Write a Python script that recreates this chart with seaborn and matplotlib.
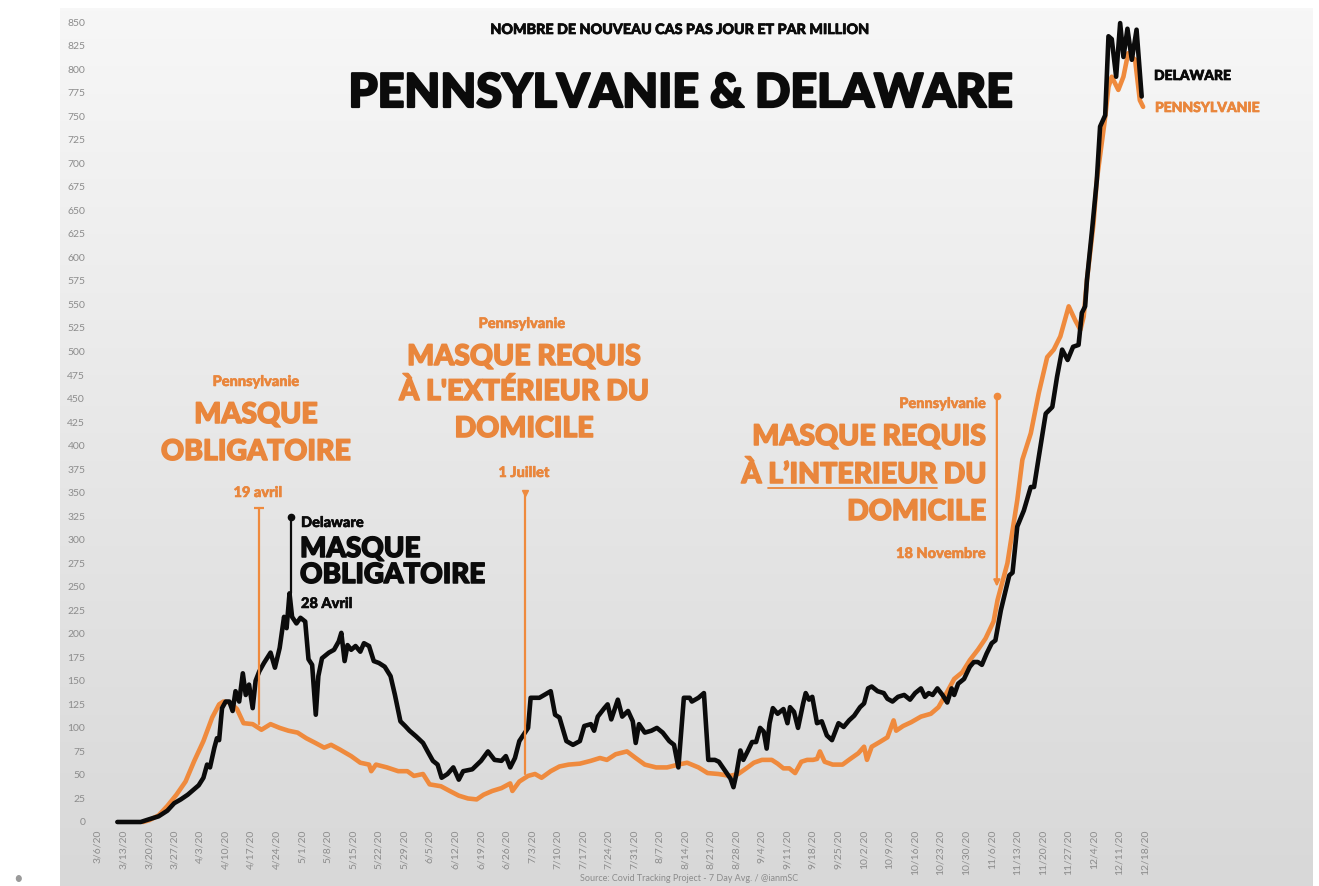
import numpy as np
import pandas as pd
import seaborn as sns
import matplotlib.pyplot as plt
import matplotlib.patheffects as pe
from matplotlib.colors import LinearSegmentedColormap
from matplotlib.lines import Line2D

# jours depuis le 6 mars 2020 / nouveaux cas par jour et par million
jours_delaware = [5.3, 11.7, 14.1, 16.6, 19.0, 20.9, 22.7, 24.6, 26.4, 27.6, 28.9, 29.9, 30.7, 31.9,
                  32.6, 33.2, 34.0, 35.0, 36.0, 36.9, 37.7, 38.7, 39.7, 40.5, 41.4, 42.4, 43.2, 44.2,
                  45.5, 47.3, 48.5, 49.8, 51.0, 51.7, 52.5, 53.2, 54.4, 55.5, 56.8, 57.7, 58.7, 59.7,
                  60.4, 61.4, 63.3, 64.7, 66.0, 66.7, 67.6, 68.4, 69.4, 70.6, 71.9, 72.9, 74.3, 75.6,
                  77.0, 78.6, 80.2, 81.4, 82.9, 84.2, 85.4, 87.2, 89.1, 90.5, 91.8, 93.1, 94.2, 95.8,
                  97.4, 98.9, 100.1, 102.6, 105.0, 106.9, 108.7, 110.6, 111.8, 113.0, 114.3, 115.5,
                  116.7, 117.9, 118.6, 121.0, 124.1, 125.3, 126.5, 128.4, 130.2, 132.1, 133.3, 135.1,
                  136.0, 137.0, 138.8, 139.7, 140.7, 142.5, 143.7, 145.3, 146.6, 147.4, 148.3, 149.9,
                  151.7, 153.2, 154.8, 156.6, 157.9, 159.1, 160.6, 162.2, 162.8, 164.6, 166.1, 167.3,
                  169.1, 170.2, 171.8, 173.4, 174.2, 175.0, 176.1, 176.9, 178.2, 179.3, 180.4, 181.5,
                  182.5, 183.3, 184.1, 185.0, 186.3, 187.9, 189.0, 189.7, 190.8, 191.9, 193.3, 194.0,
                  194.9, 195.8, 197.1, 198.4, 199.8, 201.2, 203.0, 204.4, 205.9, 207.3, 208.9, 210.0,
                  211.1, 212.1, 213.7, 215.4, 216.4, 217.8, 219.3, 221.0, 222.6, 224.0, 225.6, 226.7,
                  227.7, 228.8, 230.1, 231.5, 232.8, 234.0, 234.7, 235.8, 237.4, 239.0, 240.1, 241.2,
                  242.3, 243.6, 245.0, 246.0, 247.5, 249.8, 250.7, 252.0, 253.8, 255.7, 256.6, 257.9,
                  259.8, 261.6, 262.9, 264.3, 265.8, 267.3, 268.8, 269.7, 270.6, 271.1, 272.5, 273.8,
                  274.7, 276.1, 277.0, 277.9, 279.1, 280.2, 281.1, 282.2, 283.4, 284.7, 286.1]
cas_delaware = [0, 0, 3, 6, 12, 20, 24, 29, 35, 39, 47, 61, 58, 79,
                89, 87, 121, 128, 128, 118, 139, 128, 158, 135, 146, 121, 150, 160,
                169, 180, 164, 185, 218, 206, 243, 218, 211, 217, 213, 173, 167, 114,
                155, 174, 180, 183, 192, 201, 171, 188, 183, 187, 181, 190, 187, 171,
                169, 165, 155, 135, 107, 102, 97, 91, 84, 74, 65, 61, 47, 51,
                58, 45, 54, 56, 65, 75, 66, 65, 70, 58, 68, 86,
                93, 100, 132, 132, 139, 114, 111, 86, 82, 86, 102, 104,
                97, 112, 121, 125, 109, 130, 112, 118, 107, 84, 104, 95,
                97, 100, 95, 86, 82, 58, 132, 132, 128, 132, 137, 66,
                66, 64, 55, 46, 37, 51, 76, 66, 76, 85, 85, 100,
                96, 78, 105, 121, 115, 120, 105, 122, 117, 100, 126, 137,
                130, 133, 105, 107, 92, 87, 105, 101, 108, 113, 122, 126,
                142, 144, 139, 137, 131, 128, 133, 135, 130, 137, 142, 133,
                137, 135, 142, 135, 127, 142, 135, 147, 152, 165, 170, 170,
                167, 179, 190, 193, 225, 262, 265, 314, 331, 356, 356, 388,
                434, 441, 473, 502, 491, 505, 507, 541, 548, 576, 629, 682,
                739, 751, 835, 832, 792, 849, 813, 843, 810, 842, 771]

jours_pennsylvanie = [12.3, 14.1, 16.6, 19.0, 21.5, 24.0, 26.4, 28.9, 31.3, 33.2, 34.4, 36.2, 38.1,
                      39.9, 42.4, 44.8, 47.3, 49.8, 52.2, 54.7, 57.1, 59.6, 62.0, 63.9, 66.3, 69.4,
                      71.9, 74.3, 74.9, 76.2, 79.2, 82.3, 84.8, 86.6, 89.1, 90.9, 94.0, 96.4, 98.9,
                      101.4, 103.8, 105.7, 108.1, 110.6, 113.0, 113.6, 115.5, 117.9, 119.8, 121.6,
                      124.1, 126.5, 129.0, 132.1, 135.1, 137.6, 139.5, 141.9, 145.0, 147.4, 149.9,
                      153.0, 156.0, 159.1, 161.5, 164.6, 167.1, 170.1, 173.2, 175.5, 177.7, 179.8,
                      182.0, 184.7, 186.3, 187.9, 189.5, 191.1, 192.8, 194.4, 196.0, 197.1, 197.9,
                      199.2, 201.4, 204.1, 206.2, 208.4, 210.0, 210.8, 212.1, 214.3, 216.4, 218.1,
                      218.8, 220.7, 222.9, 225.6, 228.3, 230.4, 232.6, 234.7, 236.9, 239.0, 241.2,
                      243.3, 245.5, 246.6, 249.3, 252.0, 253.4, 255.7, 257.9, 260.2, 262.0, 263.8,
                      266.1, 267.9, 269.3, 270.2, 271.1, 272.9, 273.8, 276.1, 277.0, 277.9, 279.7,
                      281.1, 282.4, 284.3, 285.6, 286.5]
cas_pennsylvanie = [0, 2, 7, 17, 29, 43, 65, 86, 111, 125, 128, 127, 120,
                    105, 104, 98, 104, 100, 97, 95, 89, 84, 79, 82, 77, 70,
                    63, 61, 54, 61, 58, 54, 54, 49, 51, 40, 38, 33, 28,
                    25, 24, 29, 33, 36, 41, 33, 43, 49, 51, 47,
                    54, 59, 61, 62, 65, 68, 66, 72, 75, 68, 61,
                    58, 58, 61, 63, 58, 52, 51, 49, 51, 57, 63,
                    66, 66, 62, 57, 57, 52, 64, 66, 66, 67, 75,
                    64, 61, 61, 67, 73, 80, 66, 80, 85, 90, 108,
                    97, 102, 106, 112, 115, 122, 137, 152, 159, 172, 183,
                    195, 213, 236, 275, 342, 385, 413, 456, 494, 502, 516,
                    548, 533, 523, 537, 576, 636, 682, 749, 781, 792, 778,
                    792, 817, 810, 767, 760]

debut = pd.Timestamp("2020-03-06")
dates_ticks = pd.date_range("2020-03-06", "2020-12-18", freq="7D")
labels_ticks = [f"{d.month}/{d.day}/20" for d in dates_ticks]
ticks_y = list(range(0, 851, 25))

orange = "#ef8a3d"
orange_txt = "#e9863c"
noir = "#0b0b0b"
gris = "#8c8c8c"

sns.set_style("white")
plt.rcParams["font.family"] = ["Lato", "DejaVu Sans"]

df = pd.concat([
    pd.DataFrame({"jour": jours_pennsylvanie, "cas": cas_pennsylvanie, "etat": "Pennsylvanie"}),
    pd.DataFrame({"jour": jours_delaware, "cas": cas_delaware, "etat": "Delaware"}),
])

W, H = 1319, 886
fig = plt.figure(figsize=(W / 100, H / 100), dpi=100)
fig.patch.set_facecolor("white")


def fx(px):
    return px / W


def fy(py):
    return 1 - py / H


def gras(couleur, ep=1.0):
    # epaissit la police pour se rapprocher du Futura Heavy
    return [pe.withStroke(linewidth=ep, foreground=couleur)]


def texte(x, y, s, taille, couleur, ha="center", ep=1.0):
    return fig.text(fx(x), fy(y), s, ha=ha, va="baseline", fontsize=taille,
                    fontweight="black", color=couleur, path_effects=gras(couleur, ep))


# fond en degrade
fond = fig.add_axes([fx(60), 0, fx(1313) - fx(60), fy(8)])
cmap = LinearSegmentedColormap.from_list("fond", ["#f7f7f7", "#d8d8d8"])
fond.imshow(np.linspace(0, 1, 256)[:, None], aspect="auto", cmap=cmap)
fond.axis("off")

ax = fig.add_axes([0.06877, 0.06693, 0.9099, 0.9240])
ax.patch.set_alpha(0)
sns.lineplot(data=df, x="jour", y="cas", hue="etat",
             palette={"Pennsylvanie": orange, "Delaware": noir},
             hue_order=["Pennsylvanie", "Delaware"], estimator=None,
             linewidth=3.3, legend=False, ax=ax, solid_joinstyle="round")

ax.set_xlim(-2, 327)
ax.set_ylim(-5, 865)
ax.set_xticks([(d - debut).days for d in dates_ticks])
ax.set_xticklabels(labels_ticks, rotation=90, fontsize=7.5, color=gris)
ax.set_yticks(ticks_y)
ax.set_yticklabels(ticks_y, fontsize=7.5, color=gris)
ax.tick_params(length=0, axis="y", pad=4)
ax.tick_params(length=0, axis="x", pad=2)
ax.set_xlabel("")
ax.set_ylabel("")
sns.despine(ax=ax, left=True, bottom=True)

# titres
texte(680, 34, "NOMBRE DE NOUVEAU CAS PAS JOUR ET PAR MILLION", 10.3, noir, ep=0.5)
texte(680, 107, "PENNSYLVANIE & DELAWARE", 33.5, noir, ep=1.6)

# etiquettes de fin
texte(1154, 80, "DELAWARE", 10, noir, ha="left", ep=0.5)
texte(1155, 112, "PENNSYLVANIE", 10, orange_txt, ha="left", ep=0.5)

# annotation 19 avril
texte(256, 386, "Pennsylvanie", 10.5, orange_txt, ep=0.4)
texte(256, 423, "MASQUE", 20.5, orange_txt, ep=1.1)
texte(256, 460, "OBLIGATOIRE", 20.5, orange_txt, ep=1.1)
texte(258, 497, "19 avril", 10.5, orange_txt, ep=0.4)
ax.plot([44, 44], [334, 104], color=orange, lw=1.6)
ax.plot([44], [334], marker="_", ms=7, mew=1.6, color=orange)

# annotation 28 avril (Delaware)
texte(301, 527, "Delaware", 10.5, noir, ha="left", ep=0.4)
texte(300, 557, "MASQUE", 20, noir, ha="left", ep=1.1)
texte(300, 583, "OBLIGATOIRE", 20, noir, ha="left", ep=1.1)
texte(301, 608, "28 Avril", 10.5, noir, ha="left", ep=0.4)
ax.plot([53, 53], [324, 243], color=noir, lw=1.6)
ax.plot([53], [324], marker="o", ms=4.5, color=noir)

# annotation 1 juillet
texte(522, 328, "Pennsylvanie", 10.5, orange_txt, ep=0.4)
for ligne, y in [("MASQUE REQUIS", 365), ("À L'EXTÉRIEUR DU", 400), ("DOMICILE", 437)]:
    texte(524, y, ligne, 20.5, orange_txt, ep=1.1)
texte(524, 477, "1 Juillet", 10.5, orange_txt, ep=0.4)
ax.plot([117, 117], [350, 51], color=orange, lw=1.6)
ax.plot([117], [350], marker="v", ms=4.5, color=orange)

# annotation 18 novembre
texte(986, 408, "Pennsylvanie", 10.5, orange_txt, ha="right", ep=0.4)
for ligne, y in [("MASQUE REQUIS", 445), ("À L’INTERIEUR DU", 483), ("DOMICILE", 520)]:
    texte(986, y, ligne, 20.5, orange_txt, ha="right", ep=1.1)
texte(986, 558, "18 Novembre", 10.5, orange_txt, ha="right", ep=0.4)
ax.annotate("", xy=(246.4, 250), xytext=(246.4, 453),
            arrowprops=dict(arrowstyle="-|>", color=orange, lw=1.6, mutation_scale=9,
                            shrinkA=0, shrinkB=0))
ax.plot([246.4], [453], marker="o", ms=4.5, color=orange)

# soulignement de L'INTERIEUR
fig.canvas.draw()
rendu = fig.canvas.get_renderer()


def largeur(s):
    t = fig.text(0, 0, s, fontsize=20.5, fontweight="black")
    w = t.get_window_extent(renderer=rendu).width
    t.remove()
    return w


x0 = 986 - largeur("L’INTERIEUR DU")
x1 = x0 + largeur("L’INTERIEUR")
fig.add_artist(Line2D([fx(x0), fx(x1)], [fy(488), fy(488)], color=orange_txt, lw=1.3))

# source
fig.text(fx(689), fy(881), "Source: Covid Tracking Project - 7 Day Avg. / @ianmSC", ha="center",
         va="baseline", fontsize=6.5, color=gris)
fig.text(fx(18), fy(884), "•", ha="center", va="baseline", fontsize=12, color="#9a9a9a")

plt.savefig("out.png", dpi=100)
